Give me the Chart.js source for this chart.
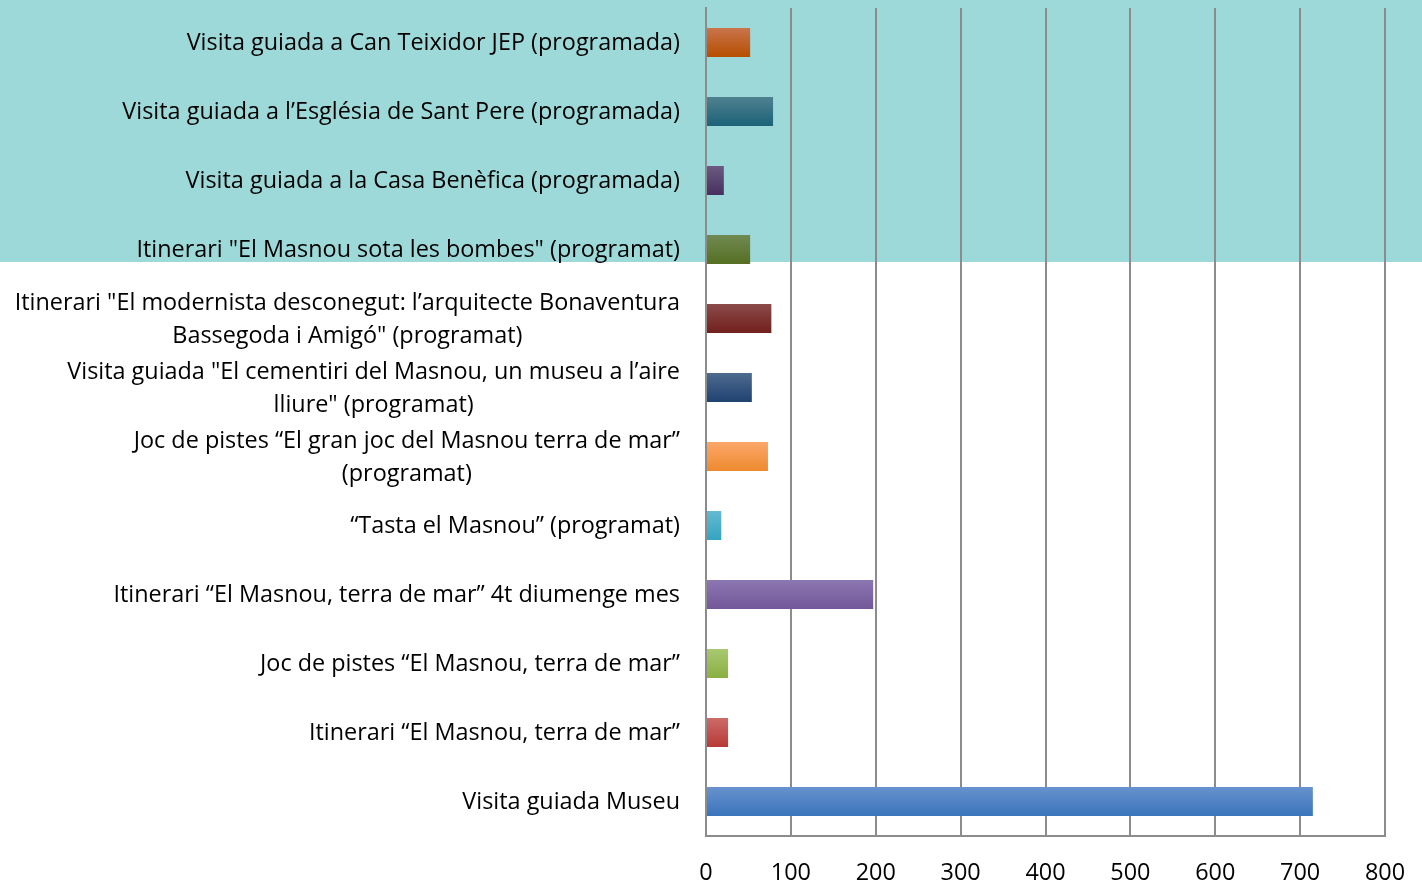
<!DOCTYPE html>
<html>
<head>
<meta charset="utf-8">
<script src="https://cdn.jsdelivr.net/npm/chart.js@4"></script>
<style>
  html, body { margin: 0; padding: 0; background: #ffffff; }
  #wrap { width: 1422px; height: 883px; position: relative; }
</style>
</head>
<body>
<div id="wrap"><canvas id="c" width="1422" height="883"></canvas></div>
<script>
const categories = [
  "Visita guiada a Can Teixidor JEP (programada)",
  "Visita guiada a l’Església de Sant Pere (programada)",
  "Visita guiada a la Casa Benèfica (programada)",
  "Itinerari \"El Masnou sota les bombes\" (programat)",
  ["Itinerari \"El modernista desconegut: l’arquitecte Bonaventura", "Bassegoda i Amigó\" (programat)"],
  ["Visita guiada \"El cementiri del Masnou, un museu a l’aire", "lliure\" (programat)"],
  ["Joc de pistes “El gran joc del Masnou terra de mar”", "(programat)"],
  "“Tasta el Masnou” (programat)",
  "Itinerari “El Masnou, terra de mar” 4t diumenge mes",
  "Joc de pistes “El Masnou, terra de mar”",
  "Itinerari “El Masnou, terra de mar”",
  "Visita guiada Museu"
];
const values = [52, 79, 21, 52, 77, 54, 73, 18, 197, 26, 26, 715];
const xTicks = [0, 100, 200, 300, 400, 500, 600, 700, 800];

const topColors = ["#c9744c", "#4f818f", "#6c5a82", "#6f8a52", "#8b4b49", "#4e6a8f", "#fba76a", "#66bad1", "#8c77b1", "#a8c872", "#cc6b68", "#6892cd"];
const bottomColors = ["#b64f00", "#1b6278", "#46305f", "#566f22", "#71201c", "#1f4270", "#ee8a2e", "#33a4c0", "#73579a", "#8bb040", "#b73a36", "#3a74bb"];

const FONT = "'Open Sans', Lato, sans-serif";
const FSIZE = 23.4;

const bandPlugin = {
  id: 'band',
  beforeDraw(chart) {
    const c = chart.ctx;
    c.save();
    c.fillStyle = '#9dd9d8';
    c.fillRect(0, 0, chart.width, 262);
    c.restore();
  }
};

const labelPlugin = {
  id: 'ylabels',
  afterDraw(chart) {
    const c = chart.ctx;
    const y = chart.scales.y;
    const right = chart.chartArea.left - 26;
    const lh = 33;
    c.save();
    c.font = FSIZE + "px " + FONT;
    c.fillStyle = '#000000';
    c.textBaseline = 'middle';
    c.textAlign = 'center';
    categories.forEach((lab, i) => {
      const lines = Array.isArray(lab) ? lab : [lab];
      const w = Math.max(...lines.map(l => c.measureText(l).width));
      const cx = right - w / 2;
      const yc = y.getPixelForValue(i) + 1;
      const y0 = yc - (lines.length - 1) * lh / 2;
      lines.forEach((l, k) => c.fillText(l, cx, y0 + k * lh));
    });
    c.restore();
  }
};

new Chart(document.getElementById('c'), {
  type: 'bar',
  data: {
    labels: categories,
    datasets: [{
      data: values,
      barPercentage: 0.42,
      categoryPercentage: 1.0,
      borderWidth: 0,
      backgroundColor: (ctx) => {
        const chart = ctx.chart;
        const i = ctx.dataIndex;
        if (!chart.chartArea || !chart.scales.y) return bottomColors[i];
        const ys = chart.scales.y;
        const yc = ys.getPixelForValue(i);
        const half = Math.abs(ys.getPixelForValue(1) - ys.getPixelForValue(0)) * 0.42 / 2;
        const g = chart.ctx.createLinearGradient(0, yc - half, 0, yc + half);
        g.addColorStop(0, topColors[i]);
        g.addColorStop(1, bottomColors[i]);
        return g;
      }
    }]
  },
  options: {
    indexAxis: 'y',
    responsive: false,
    animation: false,
    layout: { padding: { left: 0, right: 37, top: 8, bottom: 0 } },
    plugins: { legend: { display: false }, tooltip: { enabled: false } },
    scales: {
      x: {
        min: 0, max: 800,
        afterBuildTicks: (s) => { s.ticks = xTicks.map(v => ({ value: v })); },
        afterFit: (s) => { s.height = 47; s.paddingRight = 0; s.paddingLeft = 0; },
        grid: { color: '#8c8c8c', lineWidth: 2, drawTicks: false },
        border: { display: true, color: '#8c8c8c', width: 2 },
        ticks: { padding: 23, color: '#000000', font: { family: FONT, size: FSIZE } }
      },
      y: {
        afterFit: (s) => { s.width = 706; },
        grid: { display: false, drawTicks: false },
        border: { display: true, color: '#8c8c8c', width: 2 },
        ticks: { display: false }
      }
    }
  },
  plugins: [bandPlugin, labelPlugin]
});
</script>
</body>
</html>
